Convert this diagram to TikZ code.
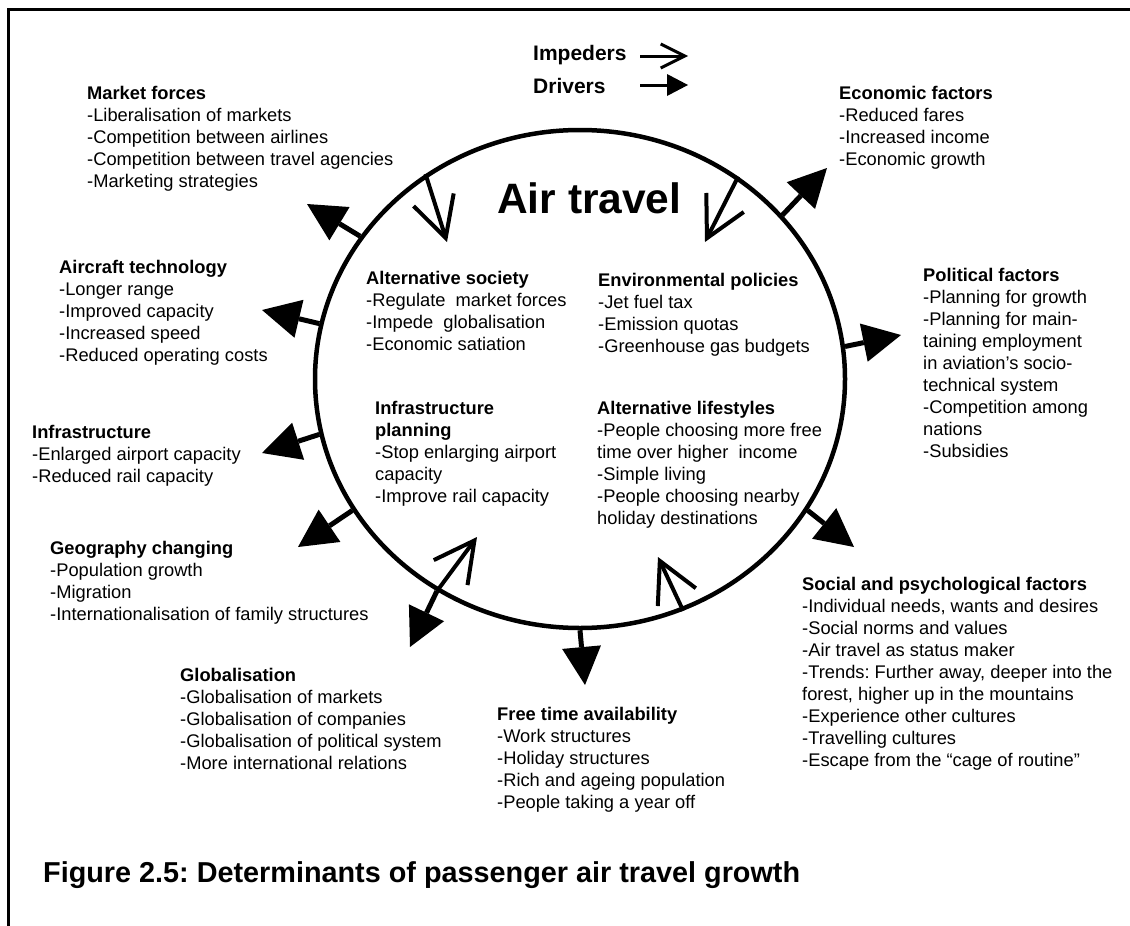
\documentclass[tikz,border=0pt]{standalone}
\usepackage{fontspec}
\setmainfont{Liberation Sans}
\frenchspacing
\usetikzlibrary{shapes.geometric,arrows.meta}
\tikzset{
  block/.style={anchor=north west, align=left, inner sep=0pt,
    font=\fontsize{18.3}{22}\selectfont},
  driver/.style={line width=5pt,
    -{Triangle[length=38pt,width=39pt,line width=0pt]}},
  impeder/.style={line width=4pt,
    -{Straight Barb[length=40pt,width=42pt]}},
}

\begin{document}
\begin{tikzpicture}[x=1pt,y=-1pt]
\useasboundingbox (0,0) rectangle (1130,926);

% Frame
\draw[line width=3pt] (8,926) -- (8,9) -- (1130,9);

% Legend
\node[anchor=base west, inner sep=0pt, font=\fontsize{21}{25}\bfseries]
  (imp) at (533,60.5) {Impeders};
\node[anchor=base west, inner sep=0pt, font=\fontsize{21}{25}\bfseries]
  (drv) at (533,93.5) {Drivers};
\coordinate (impA) at (640,56);
\coordinate (impB) at (688,56);
\coordinate (drvA) at (640,85);
\coordinate (drvB) at (688,85);
\draw[line width=3pt, -{Straight Barb[length=24pt,width=24pt]}] (impA) -- (impB);
\draw[line width=3pt, -{Triangle[length=21pt,width=22pt,line width=0pt]}] (drvA) -- (drvB);

% Air travel circle
\node[draw, ellipse, line width=4.5pt,
    minimum width=530pt,
    minimum height=498pt,
    inner sep=0pt
] (air) at (580,379) {};
\node[anchor=base west, inner sep=0pt, font=\fontsize{42.5}{50}\bfseries]
  (title) at (497,213) {Air travel};

% Drivers outside
\node[block] (mkt) at (87,86) {\textbf{Market forces}\\
-Liberalisation of markets\\
-Competition between airlines\\
-Competition between travel agencies\\
-Marketing strategies};

\node[block] (tech) at (59,260) {\textbf{Aircraft technology}\\
-Longer range\\
-Improved capacity\\
-Increased speed\\
-Reduced operating costs};

\node[block] (infra) at (32,425) {\textbf{Infrastructure}\\
-Enlarged airport capacity\\
-Reduced rail capacity};

\node[block] (geo) at (50,541) {\textbf{Geography changing}\\
-Population growth\\
-Migration\\
-Internationalisation of family structures};

\node[block] (glob) at (180,668) {\textbf{Globalisation}\\
-Globalisation of markets\\
-Globalisation of companies\\
-Globalisation of political system\\
-More international relations};

\node[block] (free) at (497,707) {\textbf{Free time availability}\\
-Work structures\\
-Holiday structures\\
-Rich and ageing population\\
-People taking a year off};

\node[block] (soc) at (802,577) {\textbf{Social and psychological factors}\\
-Individual needs, wants and desires\\
-Social norms and values\\
-Air travel as status maker\\
-Trends: Further away, deeper into the\\
forest, higher up in the mountains\\
-Experience other cultures\\
-Travelling cultures\\
-Escape from the “cage of routine”};

\node[block] (pol) at (923,268) {\textbf{Political factors}\\
-Planning for growth\\
-Planning for main-\\
taining employment\\
in aviation's socio-\\
technical system\\
-Competition among\\
nations\\
-Subsidies};

\node[block] (eco) at (839,86) {\textbf{Economic factors}\\
-Reduced fares\\
-Increased income\\
-Economic growth};

% Impeders inside
\node[block] (soci) at (366,271) {\textbf{Alternative society}\\
-Regulate\ \ market forces\\
-Impede\ \ globalisation\\
-Economic satiation};

\node[block] (env) at (598,273) {\textbf{Environmental policies}\\
-Jet fuel tax\\
-Emission quotas\\
-Greenhouse gas budgets};

\node[block] (plan) at (375,401) {\textbf{Infrastructure}\\
\textbf{planning}\\
-Stop enlarging airport\\
capacity\\
-Improve rail capacity};

\node[block] (life) at (597,401) {\textbf{Alternative lifestyles}\\
-People choosing more free\\
time over higher\ \ income\\
-Simple living\\
-People choosing nearby\\
holiday destinations};

% Arrow tips
\coordinate (mktTip) at (307,204);
\coordinate (techTip) at (262,310);
\coordinate (infraTip) at (262,453);
\coordinate (geoTip) at (298,547);
\coordinate (globTip) at (410,647);
\coordinate (freeTip) at (585,685);
\coordinate (socTip) at (854,547);
\coordinate (polTip) at (901,335);
\coordinate (ecoTip) at (827,168);
\coordinate (sociTip) at (447,242);
\coordinate (envTip) at (705,242);
\coordinate (lifeTip) at (658,557);
\coordinate (planTip) at (477,537);

% Driver arrows
\draw[driver] (air.147.5) -- (mktTip);
\draw[driver] (air.168) -- (techTip);
\draw[driver] (air.192.5) -- (infraTip);
\draw[driver] (air.210.2) -- (geoTip);
\draw[driver] (air.236.8) -- (globTip);
\draw[driver] (air.270) -- (freeTip);
\draw[driver] (air.330.1) -- (socTip);
\draw[driver] (air.7.7) -- (polTip);
\draw[driver] (air.39.4) -- (ecoTip);

% Impeder arrows
\draw[impeder] (air.127) -- (sociTip);
\draw[impeder] (air.52.7) -- (envTip);
\draw[impeder] (air.294.8) -- (lifeTip);
\draw[impeder] (air.236.8) -- (planTip);

% Caption
\node[anchor=base west, inner sep=0pt, font=\fontsize{28.8}{34}\bfseries]
  (cap) at (43,882) {Figure 2.5: Determinants of passenger air travel growth};
\end{tikzpicture}
\end{document}
